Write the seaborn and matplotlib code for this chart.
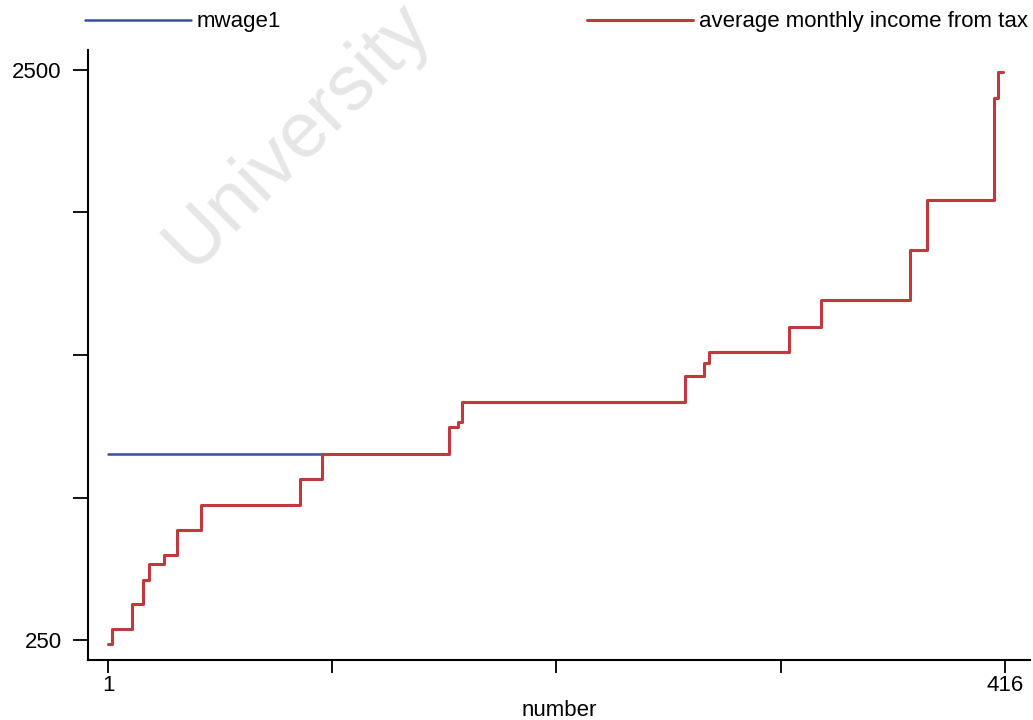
import numpy as np
import pandas as pd
import matplotlib
matplotlib.use("Agg")
import matplotlib.pyplot as plt
import seaborn as sns

# --- datos (escalones) ---
tax_x = [1, 3, 12, 17, 20, 27, 33, 44, 90, 100, 159, 163, 165, 268, 277, 279,
         316, 331, 372, 380, 411, 413, 415]
tax_y = [246, 261, 289, 318, 340, 353, 390, 431, 480, 531, 590, 604, 654, 725,
         765, 801, 886, 987, 1206, 1479, 2235, 2480, 2480]
wage_x = [1, 100]
wage_y = [531, 531]

x_ticks = [1, 104.75, 208.5, 312.25, 416]
x_labels = ["1", "", "", "", "416"]
y_ticks = [250 * 10 ** (k / 4) for k in range(5)]
y_labels = ["250", "", "", "", "2500"]

sns.set_theme(style="ticks")
plt.rcParams["font.family"] = ["Liberation Sans", "DejaVu Sans"]
plt.rcParams["text.color"] = "black"

df_tax = pd.DataFrame({"number": tax_x, "valor": tax_y})
df_wage = pd.DataFrame({"number": wage_x, "valor": wage_y})

fig = plt.figure(figsize=(10.33, 7.2), dpi=100)
ax = fig.add_axes([0.0852, 0.0833, 0.9118, 0.8473])

sns.lineplot(data=df_wage, x="number", y="valor", ax=ax, color="#3b4f9c",
             linewidth=1.8, drawstyle="steps-post", label="mwage1")
sns.lineplot(data=df_tax, x="number", y="valor", ax=ax, color="#c2393d",
             linewidth=2.2, drawstyle="steps-post",
             label="average monthly income from tax")

ax.set_yscale("log")
ax.set_xlim(-8.25, 427.6)
ax.set_ylim(230.6, 2710)
ax.set_xticks(x_ticks)
ax.set_xticklabels(x_labels)
ax.set_yticks(y_ticks)
ax.set_yticklabels(y_labels)
ax.yaxis.set_minor_locator(matplotlib.ticker.NullLocator())
ax.tick_params(axis="both", labelsize=16, width=1.3, color="black",
               labelcolor="black")
ax.tick_params(axis="y", length=11, pad=8)
ax.tick_params(axis="x", length=9, pad=2)
ax.set_xlabel("number", fontsize=16, color="black", va="center")
ax.xaxis.set_label_coords(0.5, -0.082)
ax.set_ylabel("")

for s in ["top", "right"]:
    ax.spines[s].set_visible(False)
for s in ["left", "bottom"]:
    ax.spines[s].set_color("black")
    ax.spines[s].set_linewidth(1.5)

# marca de agua
ax.text(0.288, 0.812, "University", transform=fig.transFigure, rotation=45,
        fontsize=56, color="#e6e6e6", ha="center", va="center", zorder=0.5,
        clip_on=False)

ax.legend(loc="lower left", bbox_to_anchor=(0.082, 0.955, 0.913, 0.045),
          bbox_transform=fig.transFigure, mode="expand", ncol=2,
          frameon=False, fontsize=16, handlelength=4.8, handletextpad=0.25,
          borderaxespad=0, borderpad=0)

fig.savefig("out.png", dpi=100)
